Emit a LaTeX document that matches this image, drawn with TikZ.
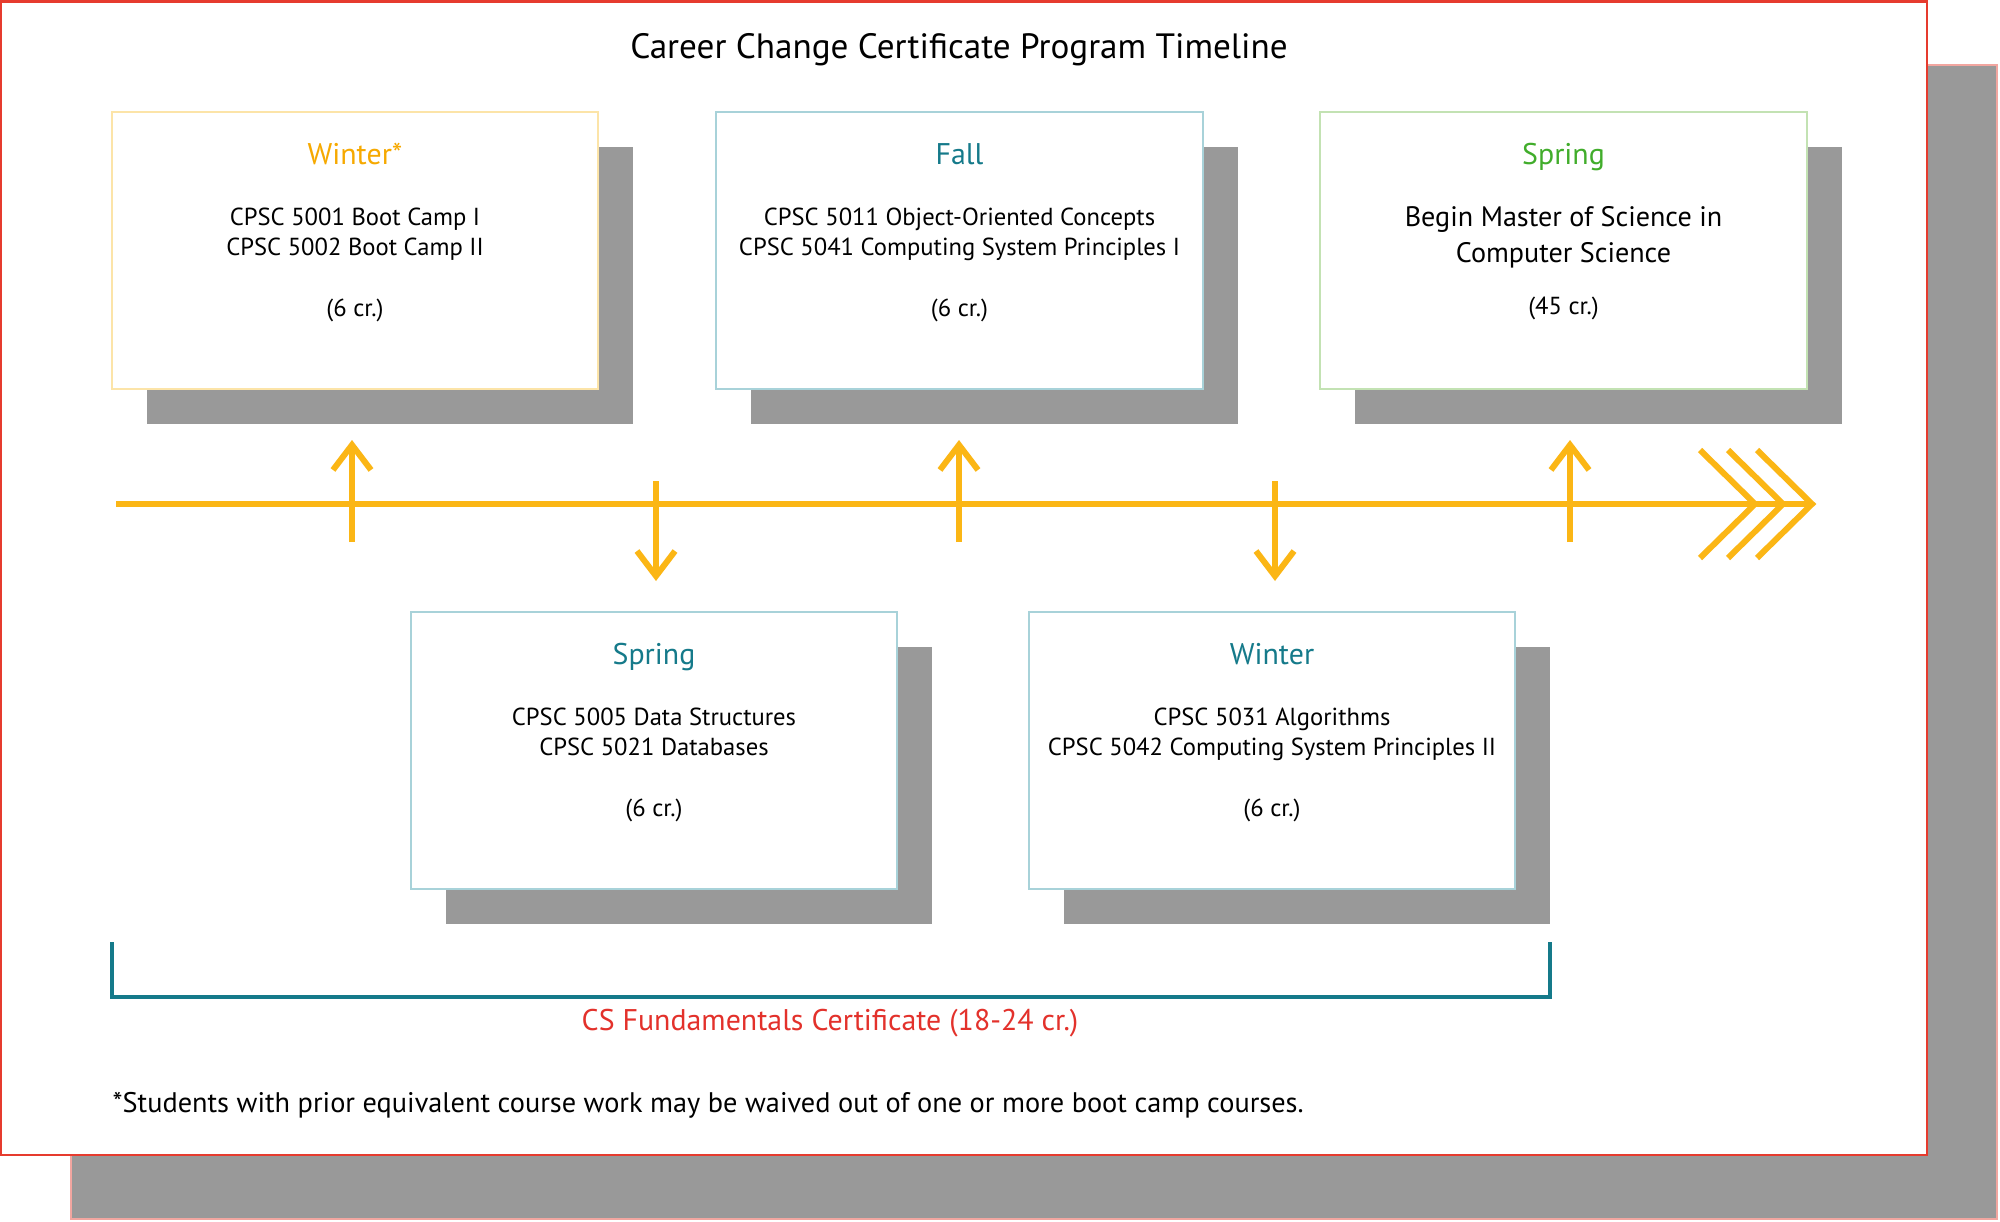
\documentclass[tikz,border=0pt]{standalone}
\usepackage{fontspec}
\setmainfont{PT Sans}
\usetikzlibrary{arrows.meta,positioning,calc,shadows}
\definecolor{framered}{HTML}{E63B2E}
\definecolor{backgray}{HTML}{999999}
\definecolor{backpink}{HTML}{F2A6A0}
\definecolor{tlgold}{HTML}{FBB615}
\definecolor{winteramber}{HTML}{F6A900}
\definecolor{cpscteal}{HTML}{157A8A}
\definecolor{springgreen}{HTML}{41AD2B}
\definecolor{labelred}{HTML}{E3312B}
\definecolor{edgeamber}{HTML}{FCE4A8}
\definecolor{edgeteal}{HTML}{A8D2D9}
\definecolor{edgegreen}{HTML}{C3E2B3}
\tikzset{
  >={Straight Barb[length=2.5mm,width=3.8mm]},
  % kort
  card/.style={rectangle,fill=white,line width=0.5pt,inner sep=0pt,
               minimum width=48.6mm,minimum height=27.7mm,
               drop shadow={shadow xshift=3.5mm,shadow yshift=-3.5mm,
                            fill=backgray,opacity=1}},
  sem/.style={anchor=base,inner sep=0pt,font=\fontsize{8.5}{10}\selectfont},
  crs/.style={anchor=base,align=center,inner sep=0pt,
              font=\fontsize{7}{8.3}\selectfont},
  cr/.style={anchor=base,inner sep=0pt,font=\fontsize{7}{8.3}\selectfont},
  % linjer
  tl/.style={draw=tlgold,line width=1.7pt},
  tick/.style={->,draw=tlgold,line width=1.7pt},
  brace/.style={draw=cpscteal,line width=1pt},
}
\begin{document}
\begin{tikzpicture}[x=0.01cm,y=-0.01cm]
  \useasboundingbox (0,0) rectangle (2000,1221);
  \draw[draw=backpink,fill=backgray,line width=0.6pt] (71,65) rectangle (1997,1219);
  \draw[draw=framered,fill=white,line width=0.8pt] (1,1.5) rectangle (1927,1155);
  \node[inner sep=0pt,font=\fontsize{10}{12}\selectfont] (title) at (959,50)
    {Career Change Certificate Program Timeline};
  % övre rad
  \node[card,draw=edgeamber] (w1) at (355,250.5) {};
  \node[sem,text=winteramber] (w1t) at ([yshift=-5.3mm]w1.north) {Winter*};
  \node[crs] (w1c) at ([yshift=-14.4mm]w1.north)
    {CPSC 5001 Boot Camp I\\CPSC 5002 Boot Camp II};
  \node[cr] (w1k) at ([yshift=-20.5mm]w1.north) {(6 cr.)};
  \node[card,draw=edgeteal] (f1) at (959.5,250.5) {};
  \node[sem,text=cpscteal] (f1t) at ([yshift=-5.3mm]f1.north) {Fall};
  \node[crs] (f1c) at ([yshift=-14.4mm]f1.north)
    {CPSC 5011 Object-Oriented Concepts\\CPSC 5041 Computing System Principles I};
  \node[cr] (f1k) at ([yshift=-20.5mm]f1.north) {(6 cr.)};
  \node[card,draw=edgegreen] (s2) at (1563.5,250.5) {};
  \node[sem,text=springgreen] (s2t) at ([yshift=-5.3mm]s2.north) {Spring};
  \node[crs,font=\fontsize{8}{10}\selectfont] (s2c) at ([yshift=-15.1mm]s2.north)
    {Begin Master of Science in\\Computer Science};
  \node[cr] (s2k) at ([yshift=-20.3mm]s2.north) {(45 cr.)};
  % nedre rad
  \node[card,draw=edgeteal] (s1) at (654,750.5) {};
  \node[sem,text=cpscteal] (s1t) at ([yshift=-5.3mm]s1.north) {Spring};
  \node[crs] (s1c) at ([yshift=-14.4mm]s1.north)
    {CPSC 5005 Data Structures\\CPSC 5021 Databases};
  \node[cr] (s1k) at ([yshift=-20.5mm]s1.north) {(6 cr.)};
  \node[card,draw=edgeteal] (w2) at (1272,750.5) {};
  \node[sem,text=cpscteal] (w2t) at ([yshift=-5.3mm]w2.north) {Winter};
  \node[crs] (w2c) at ([yshift=-14.4mm]w2.north)
    {CPSC 5031 Algorithms\\CPSC 5042 Computing System Principles II};
  \node[cr] (w2k) at ([yshift=-20.5mm]w2.north) {(6 cr.)};
  % tidslinje
  \coordinate (tl0) at (116,504);
  \coordinate (tl1) at (1812,504);
  \draw[tl] (tl0) -- (tl1);
  \foreach \t in {1755,1783,1812}
    \draw[tl] (\t-55,450) -- (\t,504) -- (\t-55,558);
  \coordinate (u1a) at (352,542);  \coordinate (u1b) at (352,440);
  \coordinate (u2a) at (959,542);  \coordinate (u2b) at (959,440);
  \coordinate (u3a) at (1570,542); \coordinate (u3b) at (1570,440);
  \coordinate (d1a) at (656,481);  \coordinate (d1b) at (656,581);
  \coordinate (d2a) at (1275,481); \coordinate (d2b) at (1275,581);
  \draw[tick] (u1a) -- (u1b);
  \draw[tick] (u2a) -- (u2b);
  \draw[tick] (u3a) -- (u3b);
  \draw[tick] (d1a) -- (d1b);
  \draw[tick] (d2a) -- (d2b);
  % certifikat
  \coordinate (b0) at (112,942);
  \coordinate (b1) at (1550,942);
  \draw[brace] (b0) -- ++(0,55) -| (b1);
  \node[inner sep=0pt,text=labelred,font=\fontsize{8.5}{10}\selectfont] (cert)
    at (830,1023) {CS Fundamentals Certificate (18-24 cr.)};
  \node[anchor=west,inner sep=0pt,font=\fontsize{8.05}{9.5}\selectfont] (note) at (112,1105)
    {*Students with prior equivalent course work may be waived out of one or more boot camp courses.};
\end{tikzpicture}
\end{document}
